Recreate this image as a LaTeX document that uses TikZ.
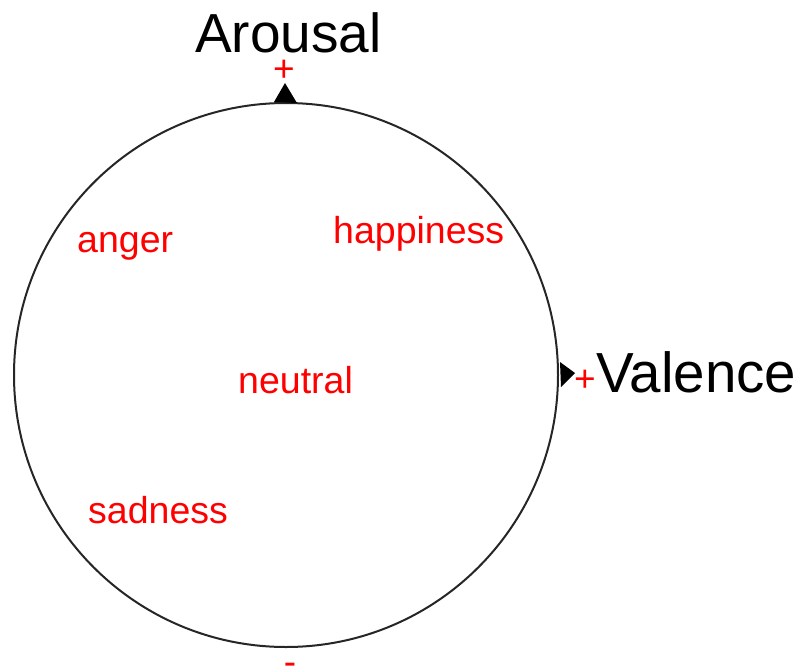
\documentclass[tikz,border=0pt]{standalone}
\usepackage{fontspec}
\setmainfont{Liberation Sans}
\begin{document}
\begin{tikzpicture}[x=1pt,y=-1pt,
  axislabel/.style={font=\fontsize{55}{60}\selectfont, text=black, inner sep=0pt},
  emo/.style={font=\fontsize{37.5}{42}\selectfont, text=red, inner sep=0pt},
  sign/.style={font=\fontsize{37}{42}\selectfont, text=red, inner sep=0pt},
  tip/.style={fill=black, draw=none}]
\useasboundingbox (0,0) rectangle (807,670);
\node[draw=black!85, line width=2pt, circle, minimum size=544pt, inner sep=0pt] (wheel) at (286,375) {};
% arrow heads on axes
\fill[tip] (wheel.north) ++(-12,0) -- (285,83) -- ++(12,20) -- cycle;
\fill[tip] (wheel.east) ++(1,-13) -- (575,373) -- ++(-14,14) -- cycle;
% axis labels
\node[axislabel, anchor=base west] (arousal) at (195,52) {Arousal};
\node[axislabel, anchor=base west, font=\fontsize{56.5}{60}\selectfont] (valence) at (596,392) {Valence};
% signs
\node[sign, anchor=base] (plustop) at (284,81) {+};
\node[sign, anchor=base] (plusright) at (585,391) {+};
\node[sign, anchor=base] (minusbottom) at (290,674) {-};
% emotions
\node[emo, anchor=base west] (happiness) at (333,243) {happiness};
\node[emo, anchor=base west] (anger) at (77,252) {anger};
\node[emo, anchor=base west] (neutral) at (238,393) {neutral};
\node[emo, anchor=base west] (sadness) at (88,523) {sadness};
\end{tikzpicture}
\end{document}
